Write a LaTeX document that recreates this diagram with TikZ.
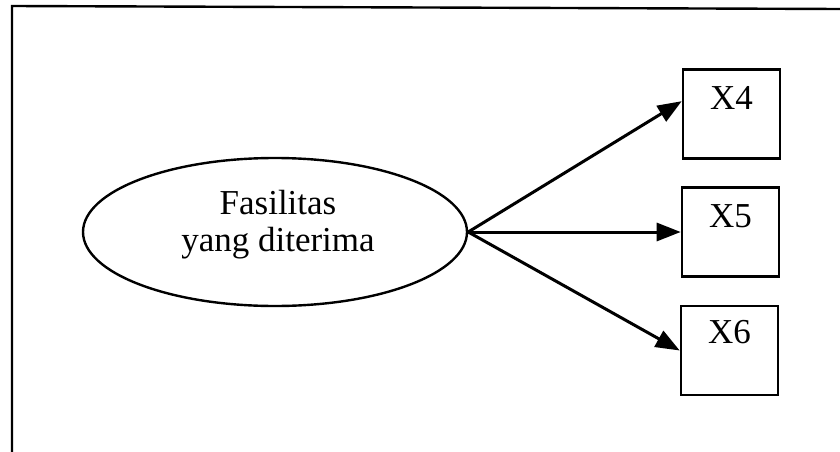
\documentclass[tikz,border=0pt]{standalone}
\usepackage{fontspec}
\setmainfont{Liberation Serif}
\usetikzlibrary{arrows.meta,shapes.geometric,calc}
\tikzset{
  every node/.style={font=\fontsize{35}{37}\selectfont},
  itembox/.style={draw, line width=2.6pt, rectangle, minimum width=97pt, minimum height=89pt, inner sep=0pt},
  latent/.style={draw, line width=2.4pt, ellipse, minimum width=384pt, minimum height=148pt, inner sep=0pt},
  conn/.style={line width=3pt, -{Triangle[length=24pt,width=18pt]}},
  frameline/.style={line width=2.4pt}
}
\begin{document}
\begin{tikzpicture}[x=1pt,y=-1pt]
\useasboundingbox (0,0) rectangle (840,452);
% frame (top and left edges)
\draw[frameline] (840,9) -- (12,6) -- (12,452);
% latent variable
\node[latent] (f) at (275,232) {};
\node[align=center, inner sep=0pt] (ft) at (278,225) {Fasilitas\\yang diterima};
% indicator boxes
\node[itembox] (x4) at (731.5,114) {};
\node[itembox] (x5) at (730.5,232) {};
\node[itembox] (x6) at (729.5,350.5) {};
\node[anchor=base, inner sep=0pt] (x4t) at ($(x4.north)+(0,41)$) {X4};
\node[anchor=base, inner sep=0pt] (x5t) at ($(x5.north)+(0,41)$) {X5};
\node[anchor=base, inner sep=0pt] (x6t) at ($(x6.north)+(0,39)$) {X6};
\coordinate (x4in) at ($(x4.north west)+(0,33)$);
% connectors
\draw[conn] (f.east) -- (x4in);
\draw[conn] (f.east) -- (x5.west);
\draw[conn] (f.east) -- (x6.west);
\end{tikzpicture}
\end{document}
